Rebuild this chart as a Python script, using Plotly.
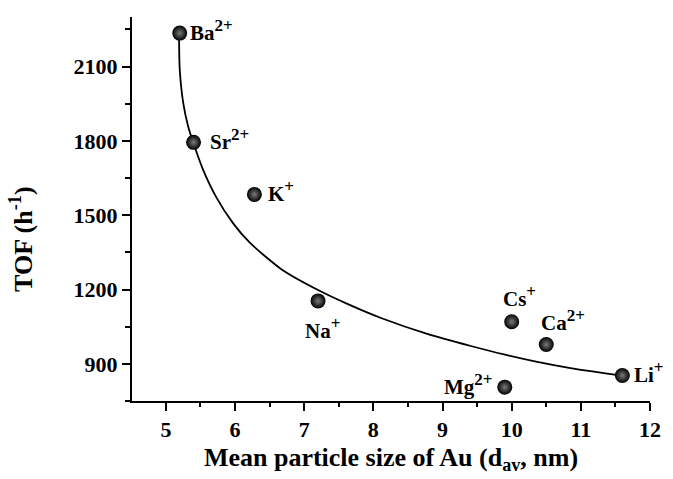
import plotly.graph_objects as go

# measured points
ions = ["Ba", "Sr", "K", "Na", "Cs", "Ca", "Mg", "Li"]
charges = ["2+", "2+", "+", "+", "+", "2+", "2+", "+"]
size_nm = [5.2, 5.4, 6.28, 7.2, 10.0, 10.5, 9.9, 11.6]
tof = [2235, 1794, 1584, 1154, 1070, 978, 806, 853]

# fitted curve
fit_x = [5.19, 5.20, 5.25, 5.32, 5.41, 5.54, 5.73, 5.97, 6.21, 6.68, 7.20, 7.64,
         8.12, 8.79, 9.41, 9.89, 10.37, 10.85, 11.6]
fit_y = [2233, 2090, 1954, 1860, 1781, 1682, 1572, 1468, 1390, 1280, 1198, 1140,
         1084, 1020, 972, 938, 908, 883, 852]

# label placement (pixel offsets, anchors)
lab_dx = [8, 14, 12, 4, 8, 17, -10, 10]
lab_dy = [3, 3, 3, -28, 25, 24, 3, 3]
lab_xa = ["left", "left", "left", "center", "center", "center", "right", "left"]

FONT = "Liberation Serif"

fig = go.Figure()
fig.add_trace(go.Scatter(x=fit_x, y=fit_y, mode="lines",
                         line=dict(color="black", width=1.8, shape="spline", smoothing=0.7),
                         hoverinfo="skip"))
fig.add_trace(go.Scatter(x=size_nm, y=tof, mode="markers",
                         marker=dict(size=15, color="black",
                                     gradient=dict(type="radial", color="#7a7a7a"),
                                     line=dict(width=0))))

for i in range(len(ions)):
    txt = ("<b>" + ions[i] + "<sup><span style='font-size:17px'>" + charges[i]
           + "</span></sup></b>")
    fig.add_annotation(x=size_nm[i], y=tof[i], text=txt, showarrow=False,
                       xanchor=lab_xa[i], yanchor="middle",
                       xshift=lab_dx[i], yshift=lab_dy[i],
                       font=dict(family=FONT, size=21, color="black"))

# y axis title
fig.add_annotation(xref="paper", yref="paper", x=-0.212, y=0.42,
                   text="<b>TOF (h<sup>-1</sup>)</b>", textangle=-90, showarrow=False,
                   xanchor="center", yanchor="middle",
                   font=dict(family=FONT, size=26, color="black"))

fig.update_layout(
    width=673, height=479,
    margin=dict(l=132, r=21, t=17, b=74),
    paper_bgcolor="white", plot_bgcolor="white",
    showlegend=False,
    font=dict(family=FONT, color="black"),
    xaxis=dict(range=[4.51, 12.0], dtick=1, tick0=5, showgrid=False, zeroline=False,
               showline=True, linecolor="black", linewidth=2,
               ticks="outside", ticklen=8, tickwidth=2, tickcolor="black",
               minor=dict(dtick=0.5, tick0=5, ticks="outside", ticklen=4, tickwidth=2,
                          tickcolor="black", showgrid=False),
               tickfont=dict(family=FONT, size=22),
               tickprefix="<b>", ticksuffix="</b>",
               title=dict(text="<b>Mean particle size of Au (d<sub>av</sub>, nm)</b>",
                          font=dict(family=FONT, size=26), standoff=6)),
    yaxis=dict(range=[750, 2300], dtick=300, tick0=900, showgrid=False, zeroline=False,
               showline=True, linecolor="black", linewidth=2,
               ticks="outside", ticklen=8, tickwidth=2, tickcolor="black",
               minor=dict(dtick=150, tick0=900, ticks="outside", ticklen=5, tickwidth=2,
                          tickcolor="black", showgrid=False),
               tickfont=dict(family=FONT, size=22),
               tickprefix="<b>", ticksuffix="</b>"),
)

fig.write_html("out.html")
